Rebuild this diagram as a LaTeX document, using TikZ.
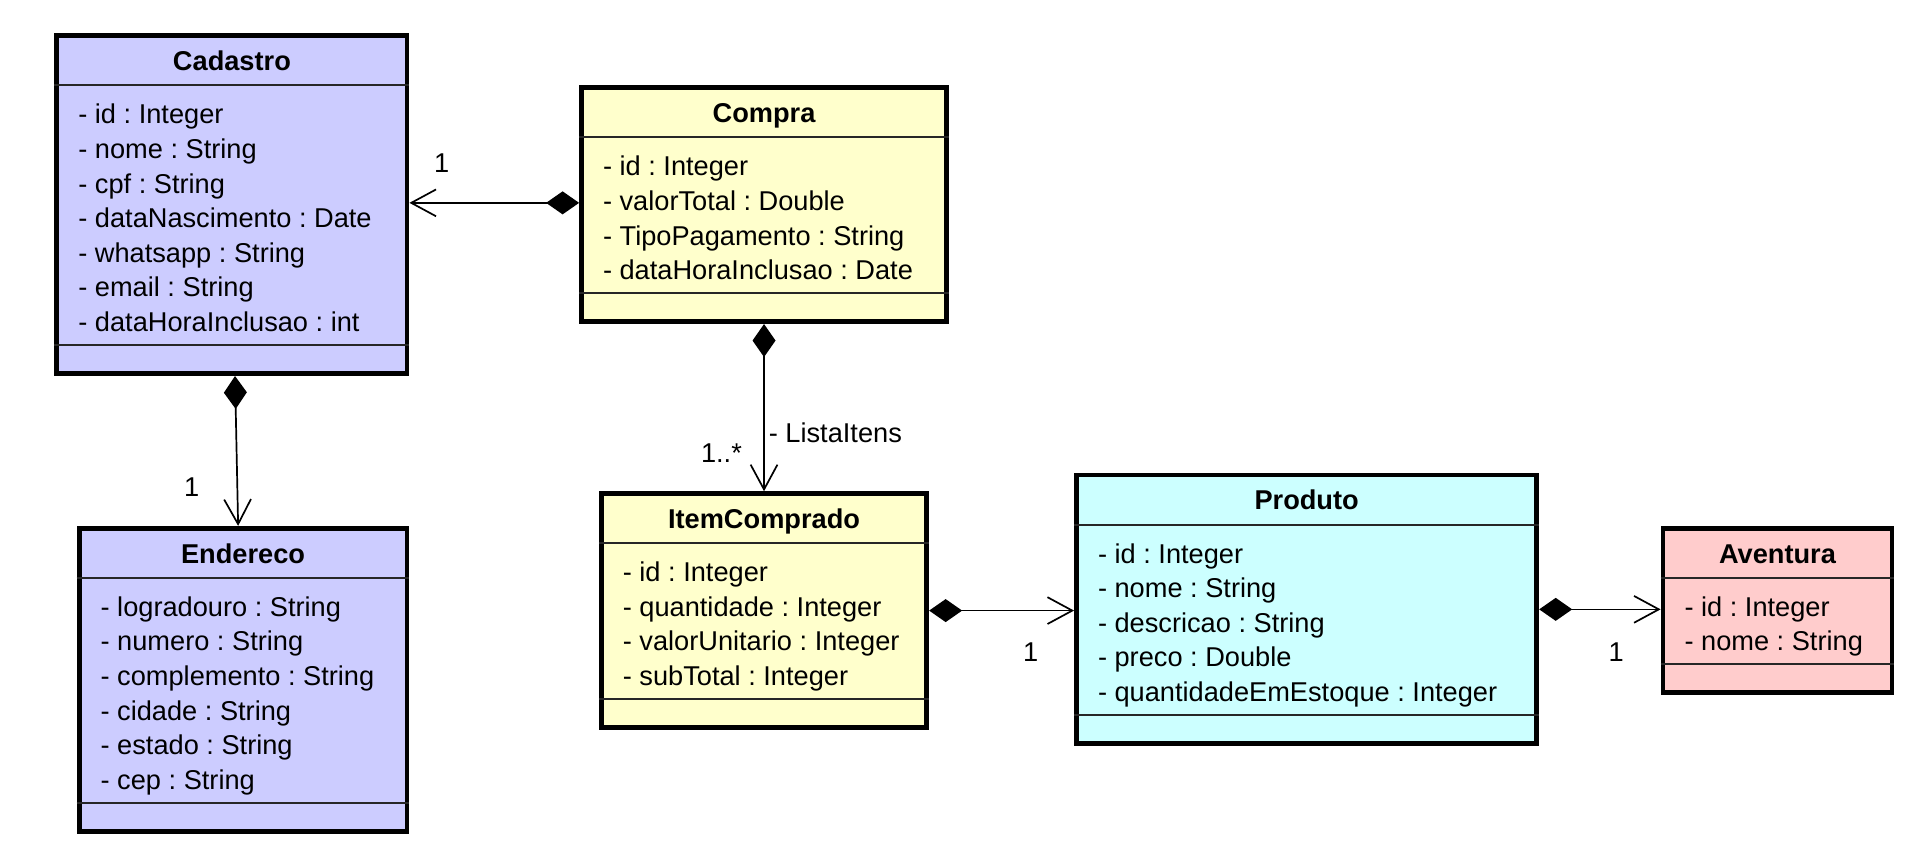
\documentclass[tikz,border=0pt]{standalone}
\usepackage{fontspec}
\setmainfont{Liberation Sans}
\frenchspacing
\usetikzlibrary{arrows.meta}
\definecolor{lav}{RGB}{204,204,255}
\definecolor{lyel}{RGB}{255,255,204}
\definecolor{lcyan}{RGB}{204,255,255}
\definecolor{lpink}{RGB}{255,204,204}
\def\pxu{0.6187pt}
\tikzset{
  classbox/.style={draw=black, line width=2.4pt, inner sep=0pt, anchor=north west},
  seprule/.style={draw=black!85, line width=1pt},
  titletext/.style={font=\fontsize{13.6pt}{17pt}\selectfont\bfseries, inner sep=0pt, anchor=base},
  attr/.style={font=\fontsize{13.6pt}{17pt}\selectfont, inner sep=0pt, anchor=base west},
  lbl/.style={font=\fontsize{13.6pt}{17pt}\selectfont, inner sep=0pt},
  compline/.style={line width=0.85pt, arrows={Diamond[length=16.5pt,width=11.5pt]-Straight Barb[length=12.4pt,width=13.4pt]}}
}
% #1 name, #2 x, #3 y, #4 width, #5 rows, #6 fill, #7 title, #8 rows list
\newcommand\umlclass[8]{%
  \node[classbox, fill=#6, minimum width=#4*\pxu, minimum height=(77+28*#5)*\pxu] (#1) at (#2,#3) {};
  \draw[seprule] ([yshift=-42*\pxu]#1.north west) -- ([yshift=-42*\pxu]#1.north east);
  \draw[seprule] ([yshift=-(56+28*#5)*\pxu]#1.north west) -- ([yshift=-(56+28*#5)*\pxu]#1.north east);
  \node[titletext] (#1-t) at ([yshift=-30*\pxu]#1.north) {#7};
  \foreach \r [count=\k from 0] in {#8}
    \node[attr] (#1-\k) at ([xshift=19*\pxu, yshift=-(73+28*\k)*\pxu]#1.north west) {\r};
}
\begin{document}
\begin{tikzpicture}[x=0.6187pt, y=-0.6187pt]
\useasboundingbox (0,0) rectangle (1550,688.5);

\umlclass{cad}{44}{27}{283}{7}{lav}{Cadastro}{- id : Integer, - nome : String, - cpf : String, - dataNascimento : Date, - whatsapp : String, - email : String, - dataHoraInclusao : int}
\umlclass{compra}{468}{69}{295}{4}{lyel}{Compra}{- id : Integer, - valorTotal : Double, - TipoPagamento : String, - dataHoraInclusao : Date}
\umlclass{end}{62}{425}{265}{6}{lav}{Endereco}{- logradouro : String, - numero : String, - complemento : String, - cidade : String, - estado : String, - cep : String}
\umlclass{item}{484}{397}{263}{4}{lyel}{ItemComprado}{- id : Integer, - quantidade : Integer, - valorUnitario : Integer, - subTotal : Integer}
\umlclass{prod}{868}{382}{372}{5}{lcyan}{Produto}{- id : Integer, - nome : String, - descricao : String, - preco : Double, - quantidadeEmEstoque : Integer}
\umlclass{av}{1342}{425}{185}{2}{lpink}{Aventura}{- id : Integer, - nome : String}

\coordinate (p1) at ([yshift=1.5*\pxu]compra.west);
\draw[compline] (p1) -- (p1 -| cad.east);
\draw[compline] ([xshift=2.5*\pxu]cad.south) -- ([xshift=-4*\pxu]end.north);
\draw[compline] (compra.south) -- (item.north);
\draw[compline] (item.east) -- (item.east -| prod.west);
\draw[compline] (prod.east) -- (prod.east -| av.west);

\node[lbl] (m1) at (357,132) {1};
\node[lbl] (m2) at (155,394) {1};
\node[lbl] (m3) at (583,366) {1..*};
\node[lbl, anchor=west] (m4) at (621,350) {- ListaItens};
\node[lbl] (m5) at (833,527) {1};
\node[lbl] (m6) at (1306,527) {1};
\end{tikzpicture}
\end{document}
